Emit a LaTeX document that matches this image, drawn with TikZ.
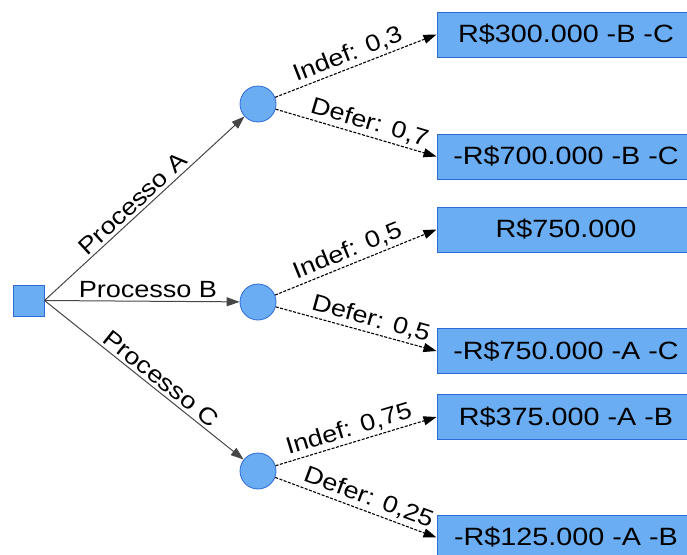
\documentclass[tikz,border=0pt]{standalone}
\usepackage{fontspec}
\setmainfont{Liberation Sans}[FakeStretch=1.15]
\usetikzlibrary{arrows.meta}
\definecolor{nodefill}{RGB}{106,173,242}
\definecolor{nodeline}{RGB}{45,105,215}
\definecolor{procline}{RGB}{70,70,70}
\begin{document}
\begin{tikzpicture}[x=1pt,y=-1pt,
  decision/.style={rectangle, draw=nodeline, fill=nodefill, line width=1pt,
    minimum size=31pt, inner sep=0pt},
  chance/.style={circle, draw=nodeline, fill=nodefill, line width=0.8pt,
    minimum size=36pt, inner sep=0pt},
  outcome/.style={rectangle, draw=nodeline, fill=nodefill, line width=1pt,
    minimum width=258pt, minimum height=45pt, inner sep=0pt,
    font=\fontsize{25}{30}\selectfont},
  proc/.style={draw=procline, line width=1pt,
    -{Triangle[length=13pt,width=9pt]}},
  prob/.style={draw=black, line width=1.1pt, dash pattern=on 3pt off 1.5pt,
    -{Triangle[length=13pt,width=9pt]}},
  lbl/.style={font=\fontsize{23.5}{28}\selectfont, sloped, above=2pt,
    inner sep=1pt}]
\clip (0,0) rectangle (687,554);
\useasboundingbox (0,0) rectangle (687,554);

% decision node and chance nodes
\node[decision] (s) at (28.5,300.5) {};
\node[chance] (c1) at (258,104) {};
\node[chance] (c2) at (258,302) {};
\node[chance] (c3) at (258,471) {};

% outcomes
\node[outcome] (o1) at (566,34.5) {R\$300.000 -B -C};
\node[outcome] (o2) at (566,156.5) {-R\$700.000 -B -C};
\node[outcome] (o3) at (566,229.5) {R\$750.000};
\node[outcome] (o4) at (566,351) {-R\$750.000 -A -C};
\node[outcome] (o5) at (566,417) {R\$375.000 -A -B};
\node[outcome] (o6) at (566,537.5) {-R\$125.000 -A -B};

% process choices
\draw[proc] (s.east) -- node[lbl, pos=0.48] {Processo A} (c1);
\draw[proc] (s.east) -- node[lbl, pos=0.53] {Processo B} (c2);
\draw[proc] (s.east) -- node[lbl, pos=0.55] {Processo C} (c3);

% outcomes of each process
\draw[prob] (c1) -- node[lbl, pos=0.48] {Indef: 0,3} (o1.west);
\draw[prob] (c1) -- node[lbl, pos=0.56] {Defer: 0,7} (o2.west);
\draw[prob] (c2) -- node[lbl, pos=0.48] {Indef: 0,5} (o3.west);
\draw[prob] (c2) -- node[lbl, pos=0.57] {Defer: 0,5} (o4.west);
\draw[prob] (c3) -- node[lbl, pos=0.48] {Indef: 0,75} (o5.west);
\draw[prob] (c3) -- node[lbl, pos=0.55] {Defer: 0,25} (o6.west);
\end{tikzpicture}
\end{document}
